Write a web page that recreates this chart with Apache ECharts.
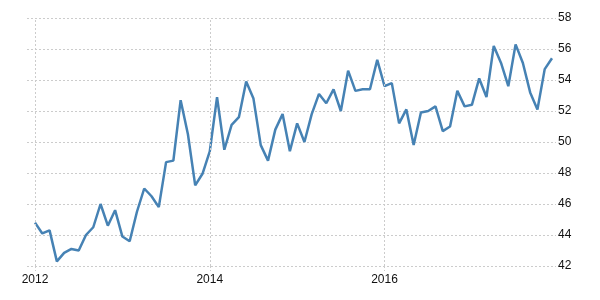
<!DOCTYPE html>
<html><head><meta charset="utf-8">
<script src="https://cdn.jsdelivr.net/npm/echarts@6/dist/echarts.min.js"></script>
<style>html,body{margin:0;padding:0;background:#fff}#c{width:600px;height:300px}</style>
</head><body><div id="c"></div>
<script>
const yearLabels = ['2012', '2014', '2016'];
const yearTickIndex = [0, 24, 48];
const values = [
  44.8, 44.1, 44.3, 42.3, 42.85, 43.1, 43.0, 44.0, 44.5, 46.0, 44.6, 45.6,
  43.9, 43.6, 45.5, 47.0, 46.5, 45.8, 48.7, 48.8, 52.7, 50.5, 47.2, 47.95,
  49.4, 52.9, 49.5, 51.1, 51.6, 53.9, 52.8, 49.8, 48.8, 50.8, 51.8, 49.4,
  51.2, 50.0, 51.8, 53.1, 52.5, 53.4, 52.0, 54.6, 53.3, 53.4, 53.4, 55.3,
  53.6, 53.8, 51.2, 52.1, 49.8, 51.9, 52.0, 52.3, 50.7, 51.0, 53.3, 52.3,
  52.4, 54.1, 52.9, 56.2, 55.1, 53.6, 56.3, 55.1, 53.2, 52.1, 54.7, 55.4
];
const yTicks = [42, 44, 46, 48, 50, 52, 54, 56, 58];

const data = values.map((v, i) => [i, v]);
const chart = echarts.init(document.getElementById('c'));
const font = 'Liberation Sans, Arial, sans-serif';
chart.setOption({
  animation: false,
  grid: { left: 27, right: 44, top: 18, bottom: 34 },
  xAxis: {
    type: 'value', min: -1.1, max: 71.55,
    axisLine: { show: false },
    axisTick: { show: true, customValues: yearTickIndex, length: 5, lineStyle: { color: '#ccc', type: [2, 2], width: 1 } },
    splitLine: { show: false },
    axisLabel: {
      customValues: yearTickIndex,
      formatter: v => yearLabels[yearTickIndex.indexOf(Math.round(v))] || '',
      color: '#111', fontSize: 12, fontFamily: font, margin: 8
    }
  },
  yAxis: {
    type: 'value', position: 'right', min: yTicks[0], max: yTicks[yTicks.length - 1], interval: 2,
    axisLine: { show: false }, axisTick: { show: false },
    axisLabel: { color: '#111', fontSize: 12, fontFamily: font, margin: 2 },
    splitLine: { lineStyle: { color: '#ccc', type: [2, 2], width: 1 } }
  },
  series: [{
    type: 'line', data: data, showSymbol: false, symbol: 'none',
    lineStyle: { color: '#4682B4', width: 2.5 },
    markLine: {
      silent: true, symbol: 'none', label: { show: false },
      lineStyle: { color: '#ccc', type: [2, 2], width: 1 },
      data: yearTickIndex.map(i => ({ xAxis: i }))
    },
    z: 3
  }]
});
</script></body></html>
